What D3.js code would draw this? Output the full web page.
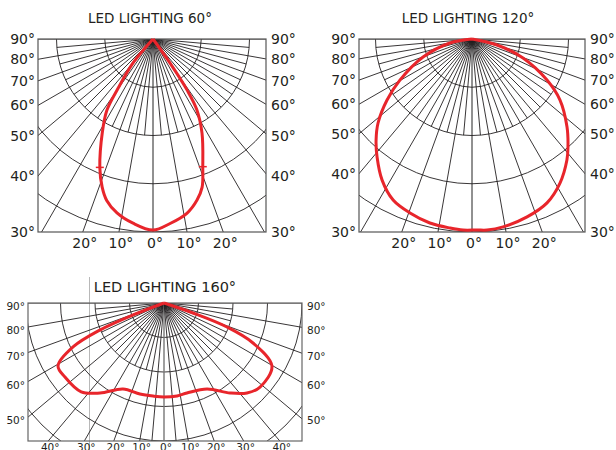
<!DOCTYPE html>
<html lang="en">
<head>
<meta charset="UTF-8" />
<title>LED Lighting polar curves</title>
<script src="https://d3js.org/d3.v7.min.js"></script>
<style>
  body { margin: 0; background: #fff; font-family: "DejaVu Sans", sans-serif; }
</style>
</head>
<body>
<div id="chart"></div>
<script>
// angle labels, degrees from nadir (negative = left side)
const sideTicks = [90, 80, 70, 60, 50, 40, 30];
const sideTicks160 = [90, 80, 70, 60, 50];
const bottomTicks = [-20, -10, 0, 10, 20];
const bottomTicks160 = [-40, -30, -20, -10, 0, 10, 20, 30, 40];

// relative intensity, % of the panel depth
const angles60 = [-40, -39.8, -35.2, -32.9, -28.5, -22.5, -19, -16, -11.7, -6.2, 0, 5.3, 11, 15.3, 18.3, 21.3, 27.5, 31.8, 33.7, 35.3, 36];
const values60 = [0, 16, 32, 44, 55, 72, 81, 87, 92, 96, 99, 96, 92, 86.5, 81, 71, 55, 43, 32, 15, 0];
const markAngles60 = [-22.5, 21.3];
const markValues60 = [72, 71];

const angles120 = [-85, -79.7, -69.8, -60.3, -54.3, -48.2, -43.5, -38.8, -32.5, -26.1, -19.6, -12.9, -6.6, -2.7, 1.5, 4.5, 9.4, 17.2, 24.6, 31.4, 38.1, 41.6, 47.2, 55.3, 61.3, 69.6, 76.5, 85];
const values120 = [0, 11.6, 27, 43, 54.2, 65.3, 72.2, 78.5, 86.7, 92.9, 95.7, 97.8, 98.6, 99.1, 99, 99.3, 98.7, 96.5, 93.4, 87.5, 79.7, 74.9, 67.1, 55.4, 44.3, 28.2, 13.3, 0];

const angles160 = [-70, -68.8, -67.1, -64.2, -59.3, -53.2, -43, -35.4, -25.5, -14.8, -6.7, 0, 8, 14.3, 26.6, 36.3, 42.7, 48.8, 59.7, 65.8, 69.1, 71, 72];
const values160 = [0, 24, 50.4, 73.2, 89.3, 89.6, 88, 80, 69, 68.2, 67.9, 68.1, 68, 67.3, 69.7, 80.9, 88.7, 92.5, 90.6, 70.7, 48.8, 22.2, 0];

const width = 616;
const height = 450;
const rad = Math.PI / 180;

const svg = d3.select("#chart").append("svg")
  .attr("width", width)
  .attr("height", height);

const panels = [
  { id: "p60", left: 38, right: 266, top: 39, bottom: 232, cx: 153,
    title: "LED LIGHTING 60°", titleX: 150, titleY: 23, titleSize: 13.5,
    labelSize: 14, labelDy: 0, bottomY: 248, border: "#555", center: "#222",
    side: sideTicks, under: bottomTicks, fineFull: [],
    angles: angles60, values: values60, markA: markAngles60, markV: markValues60 },
  { id: "p120", left: 359, right: 585, top: 39, bottom: 232, cx: 472,
    title: "LED LIGHTING 120°", titleX: 468, titleY: 23, titleSize: 13.5,
    labelSize: 14, labelDy: 0, bottomY: 248, border: "#555", center: "#222",
    side: sideTicks, under: bottomTicks, fineFull: [],
    angles: angles120, values: values120, markA: [], markV: [] },
  { id: "p160", left: 28, right: 302, top: 303, bottom: 441, cx: 164,
    title: "LED LIGHTING 160°", titleX: 165, titleY: 292, titleSize: 14.5,
    labelSize: 10.5, labelDy: 3.5, bottomY: 451, border: "#666", center: "#777",
    side: sideTicks160, under: bottomTicks160, fineFull: [-5, 5],
    angles: angles160, values: values160, markA: [], markV: [] }
];

// stray guide line left in the source artwork
svg.append("line")
  .attr("x1", 89.5).attr("x2", 89.5)
  .attr("y1", 277).attr("y2", 450)
  .attr("stroke", "#b8b8b8").attr("stroke-width", 1);

panels.forEach(p => {
  const depth = p.bottom - p.top;
  const r = d3.scaleLinear().domain([0, 100]).range([0, depth]);
  const g = svg.append("g");

  g.append("clipPath").attr("id", "clip-" + p.id)
    .append("rect")
    .attr("x", p.left).attr("y", p.top)
    .attr("width", p.right - p.left).attr("height", depth);

  const grid = g.append("g")
    .attr("clip-path", `url(#clip-${p.id})`)
    .attr("fill", "none")
    .attr("stroke", "#231f20")
    .attr("stroke-width", 0.9);

  // concentric arcs
  grid.selectAll("circle")
    .data([25, 50, 75, 100, 125, 150])
    .join("circle")
    .attr("cx", p.cx).attr("cy", p.top)
    .attr("r", d => r(d));

  // rays every 5 deg, odd ones stop at the second arc
  const rayLen = d => (d % 10 === 0 || p.fineFull.includes(d)) ? r(300) : r(50);
  grid.selectAll("line")
    .data(d3.range(-90, 91, 5))
    .join("line")
    .attr("x1", p.cx).attr("y1", p.top)
    .attr("x2", d => p.cx + rayLen(d) * Math.sin(d * rad))
    .attr("y2", d => p.top + rayLen(d) * Math.cos(d * rad))
    .attr("stroke", d => d === 0 ? p.center : null)
    .attr("stroke-width", d => d === 0 ? (p.id === "p160" ? 1.4 : 1) : null);

  g.append("rect")
    .attr("x", p.left).attr("y", p.top)
    .attr("width", p.right - p.left).attr("height", depth)
    .attr("fill", "none")
    .attr("stroke", p.border)
    .attr("stroke-width", 1.2);

  // intensity curve
  const pts = p.angles.map((a, i) => [Math.PI - a * rad, r(p.values[i])]);
  const line = d3.lineRadial().curve(d3.curveCatmullRom.alpha(0.5));
  g.append("path")
    .attr("transform", `translate(${p.cx},${p.top})`)
    .attr("d", line(pts))
    .attr("fill", "none")
    .attr("stroke", "#e8252b")
    .attr("stroke-width", 3)
    .attr("stroke-linejoin", "round");

  g.selectAll(".mark")
    .data(p.markA)
    .join("line")
    .attr("class", "mark")
    .attr("x1", (d, i) => p.cx + r(p.markV[i]) * Math.sin(d * rad) - 4)
    .attr("x2", (d, i) => p.cx + r(p.markV[i]) * Math.sin(d * rad) + 4)
    .attr("y1", (d, i) => p.top + r(p.markV[i]) * Math.cos(d * rad))
    .attr("y2", (d, i) => p.top + r(p.markV[i]) * Math.cos(d * rad))
    .attr("stroke", "#e8252b")
    .attr("stroke-width", 1.5);

  // title
  g.append("text")
    .attr("x", p.titleX).attr("y", p.titleY)
    .attr("text-anchor", "middle")
    .attr("font-size", p.titleSize)
    .attr("fill", "#231f20")
    .text(p.title);

  // side labels
  const half = p.cx - p.left;
  const sideY = d => d === 90 ? p.top : Math.min(p.bottom, p.top + half / Math.tan(d * rad));
  g.selectAll(".lab-l")
    .data(p.side)
    .join("text")
    .attr("class", "lab-l")
    .attr("x", p.left - 3)
    .attr("y", d => sideY(d) + p.labelDy)
    .attr("dy", "0.36em")
    .attr("text-anchor", "end")
    .attr("font-size", p.labelSize)
    .attr("fill", "#231f20")
    .text(d => d + "°");
  g.selectAll(".lab-r")
    .data(p.side)
    .join("text")
    .attr("class", "lab-r")
    .attr("x", p.right + 5)
    .attr("y", d => sideY(d) + p.labelDy)
    .attr("dy", "0.36em")
    .attr("font-size", p.labelSize)
    .attr("fill", "#231f20")
    .text(d => d + "°");

  // bottom labels
  g.selectAll(".lab-b")
    .data(p.under)
    .join("text")
    .attr("class", "lab-b")
    .attr("x", d => p.cx + depth * Math.tan(d * rad) + 2)
    .attr("y", p.bottomY)
    .attr("text-anchor", "middle")
    .attr("font-size", p.labelSize)
    .attr("fill", "#231f20")
    .text(d => Math.abs(d) + "°");
});
</script>
</body>
</html>
